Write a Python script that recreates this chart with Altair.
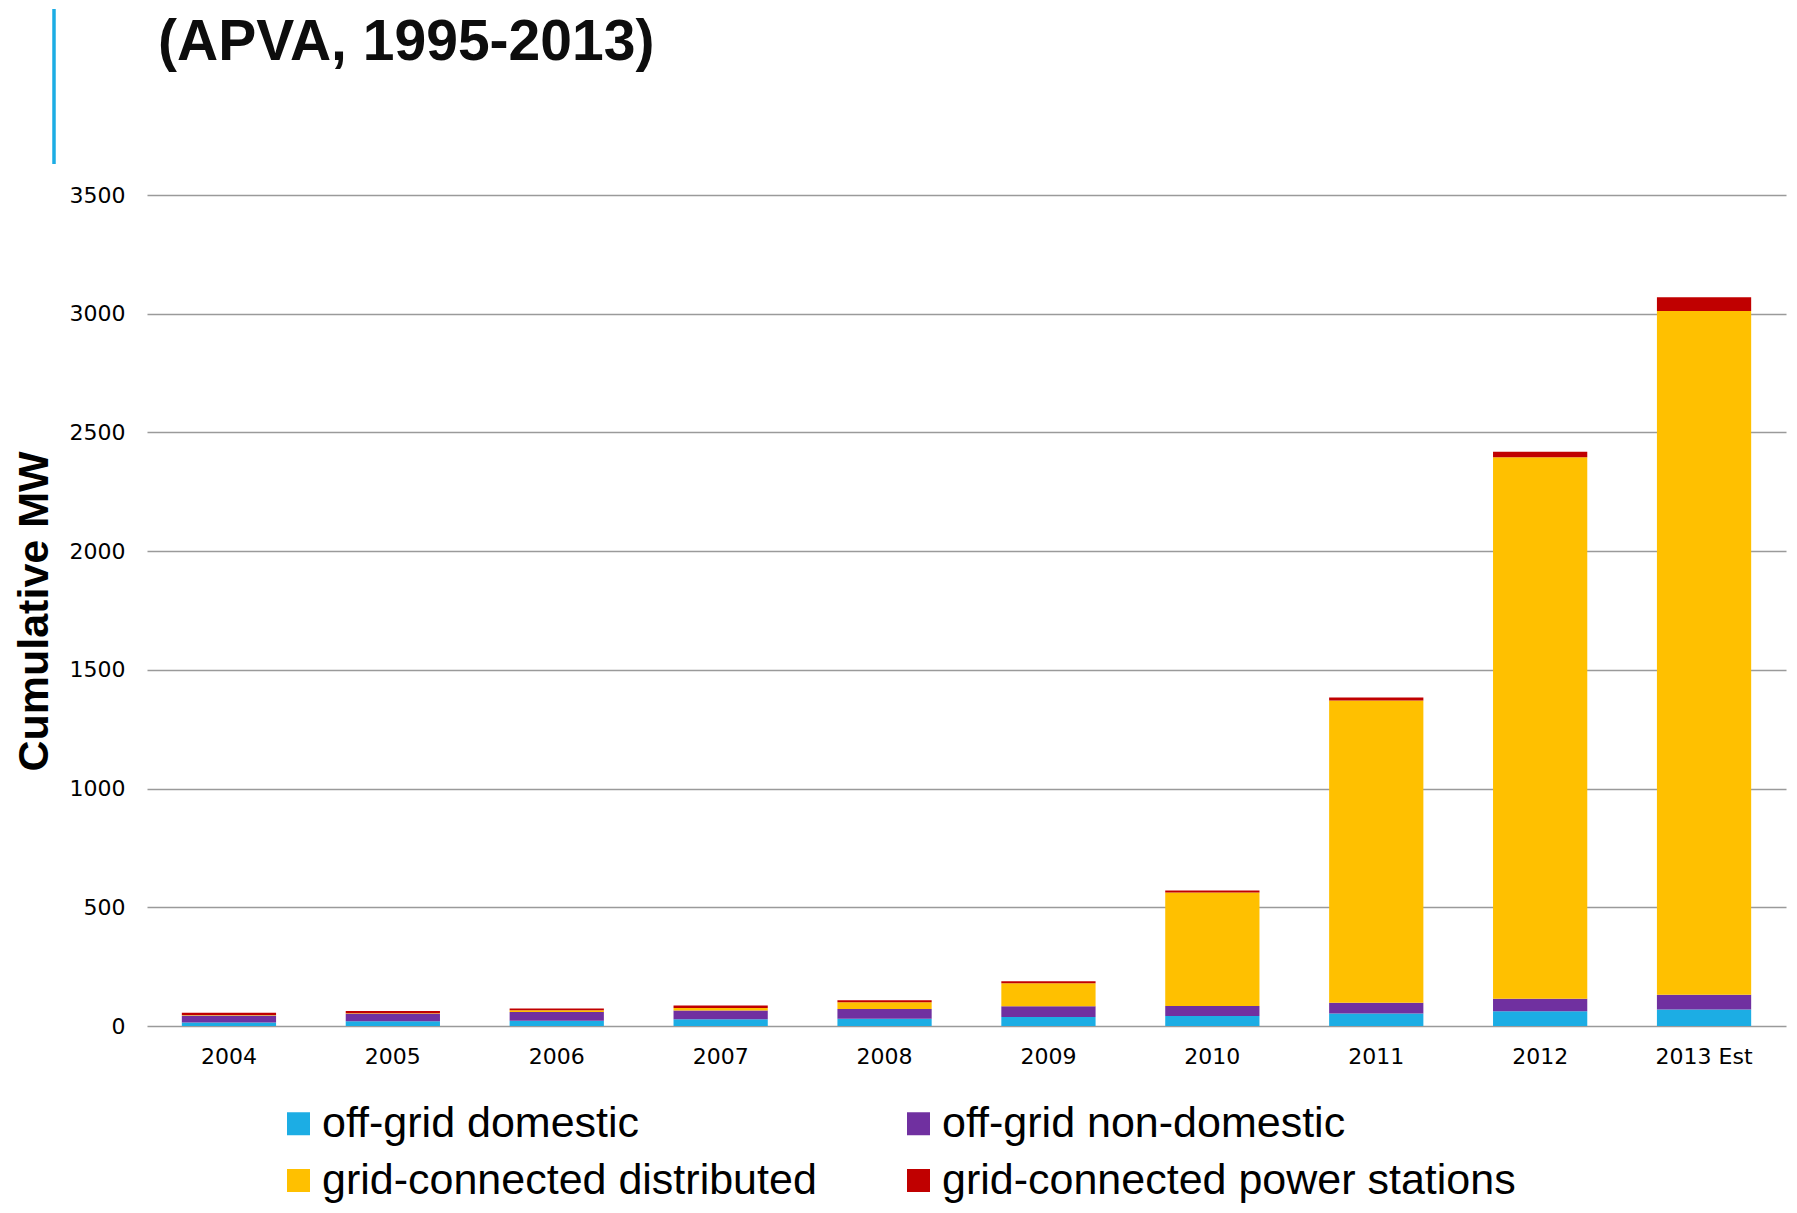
import altair as alt
import pandas as pd

# ---- data ----
years = ["2004", "2005", "2006", "2007", "2008", "2009", "2010", "2011", "2012", "2013 Est"]
series = ["off-grid domestic", "off-grid non-domestic",
          "grid-connected distributed", "grid-connected power stations"]
off_grid_domestic = [15, 20, 22, 28, 31, 38, 42, 53, 62, 70]
off_grid_non_domestic = [29, 32, 37, 37, 41, 45, 42, 45, 53, 62]
grid_connected_distributed = [2, 2, 7, 11, 28, 97, 478, 1273, 2280, 2879]
grid_connected_power_stations = [10, 9, 8, 10, 8, 8, 9, 13, 24, 58]
colors = ["#1CADE4", "#7030A0", "#FFC000", "#C00000"]
y_ticks = [0, 500, 1000, 1500, 2000, 2500, 3000, 3500]
title_text = "(APVA, 1995-2013)"
y_title = "Cumulative MW"

values = [off_grid_domestic, off_grid_non_domestic,
          grid_connected_distributed, grid_connected_power_stations]
rows = []
for k, (name, vals) in enumerate(zip(series, values)):
    for yr, v in zip(years, vals):
        rows.append({"year": yr, "series": name, "mw": v, "k": k})
df = pd.DataFrame(rows)

bars = alt.Chart(df).mark_bar().encode(
    x=alt.X("year:N", sort=years,
            scale=alt.Scale(paddingInner=0.425, paddingOuter=0.2125),
            axis=alt.Axis(title=None, labelAngle=0, ticks=False, domain=False,
                          labelFont="DejaVu Sans", labelFontSize=22,
                          labelColor="#000000", labelPadding=20, grid=False)),
    y=alt.Y("mw:Q", stack="zero",
            scale=alt.Scale(domain=[0, 3500], nice=False),
            axis=alt.Axis(values=y_ticks, format="d", title=y_title,
                          ticks=False, domain=False,
                          labelFont="DejaVu Sans", labelFontSize=22,
                          labelColor="#000000", labelPadding=22,
                          gridColor="#9A9A9A", gridWidth=1.4,
                          titleFont="Liberation Sans",
                          titleFontSize=43, titleFontWeight="bold",
                          titleColor="#000000", titleBaseline="alphabetic",
                          titleAngle=270, titleX=-100, titleY=416)),
    color=alt.Color("series:N", sort=series,
                    scale=alt.Scale(domain=series, range=colors),
                    legend=alt.Legend(title=None, orient="none",
                                      legendX=130, legendY=907,
                                      direction="horizontal", columns=2,
                                      columnPadding=80, rowPadding=13,
                                      symbolType="square", symbolSize=529,
                                      symbolStrokeWidth=0, symbolOpacity=1,
                                      labelFont="Liberation Sans",
                                      labelFontSize=43, labelColor="#000000",
                                      labelOffset=2, padding=0,
                                      labelLimit=0)),
    order=alt.Order("k:Q", sort="ascending"),
)

title_layer = alt.Chart(pd.DataFrame({"t": [title_text]})).mark_text(
    align="left", baseline="alphabetic", font="Liberation Sans",
    fontSize=57, fontWeight="bold", color="#0D0D0D"
).encode(x=alt.value(11), y=alt.value(-135), text="t:N")

accent = alt.Chart(pd.DataFrame({"a": [0]})).mark_rule(
    color="#1CADE4", strokeWidth=3.5
).encode(x=alt.value(-93), y=alt.value(-186), y2=alt.value(-31))

chart = alt.layer(bars, title_layer, accent).properties(
    width=1639, height=831,
    autosize=alt.AutoSizeParams(type="none"),
    padding={"left": 139, "top": 187, "right": 2, "bottom": 178},
    background="white",
).configure_view(stroke=None)

chart.save("out.html", embed_options={"renderer": "svg", "actions": False})
